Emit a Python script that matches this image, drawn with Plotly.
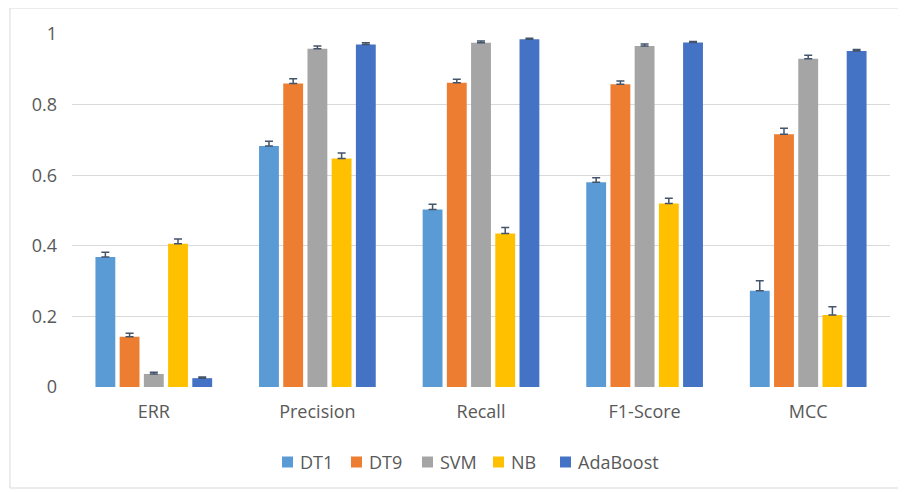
import plotly.graph_objects as go

categories = ["ERR", "Precision", "Recall", "F1-Score", "MCC"]
series_names = ["DT1", "DT9", "SVM", "NB", "AdaBoost"]
dt1 = [0.368, 0.683, 0.503, 0.580, 0.273]
dt9 = [0.142, 0.860, 0.862, 0.858, 0.716]
svm = [0.037, 0.958, 0.975, 0.966, 0.930]
nb = [0.406, 0.647, 0.435, 0.520, 0.204]
ada = [0.025, 0.970, 0.985, 0.976, 0.952]
dt1_err = [0.014, 0.013, 0.015, 0.013, 0.028]
dt9_err = [0.010, 0.013, 0.010, 0.009, 0.017]
svm_err = [0.005, 0.008, 0.005, 0.006, 0.010]
nb_err = [0.013, 0.016, 0.017, 0.015, 0.023]
ada_err = [0.003, 0.005, 0.003, 0.003, 0.004]
y_tickvals = [0, 0.2, 0.4, 0.6, 0.8, 1]
y_ticktext = ["0", "0.2", "0.4", "0.6", "0.8", "1"]

values = [dt1, dt9, svm, nb, ada]
errors = [dt1_err, dt9_err, svm_err, nb_err, ada_err]
colors = ["#5B9BD5", "#ED7D31", "#A5A5A5", "#FFC000", "#4472C4"]

# page has an 8px body margin; work in page pixel coordinates
OFF = 8
W, H = 906 - OFF, 492 - OFF
P_LEFT, P_RIGHT, P_TOP, P_BOTTOM = 72, 890, 34, 387
ml = P_LEFT - OFF
mt = P_TOP - OFF
mr = W - (P_RIGHT - OFF)
mb = H - (P_BOTTOM - OFF)
pw, ph = P_RIGHT - P_LEFT, P_BOTTOM - P_TOP

def px_x(p):
    return (p - P_LEFT) / pw

def px_y(p):
    return (P_BOTTOM - p) / ph

TEXT_COLOR = "#595959"
font = "'Open Sans', sans-serif"

fig = go.Figure()
for name, v, e, c in zip(series_names, values, errors, colors):
    fig.add_trace(go.Bar(
        name=name, x=categories, y=v, marker_color=c, marker_line_width=0,
        showlegend=False,
        error_y=dict(type="data", symmetric=False, array=e, arrayminus=[0]*len(e),
                     color="#44546A", thickness=1.5, width=4),
    ))

# outer chart border
fig.add_shape(type="rect", xref="paper", yref="paper",
              x0=px_x(10), x1=px_x(903), y0=px_y(488), y1=px_y(8),
              line=dict(color="#D9D9D9", width=1), fillcolor="rgba(0,0,0,0)", layer="below")

# legend (Excel style: small square + label)
legend_square_left = [282, 351, 422, 493, 560]
LEG_Y, SQ = 462, 11
for name, c, sx in zip(series_names, colors, legend_square_left):
    fig.add_shape(type="rect", xref="paper", yref="paper",
                  x0=px_x(sx), x1=px_x(sx + SQ), y0=px_y(LEG_Y + SQ / 2), y1=px_y(LEG_Y - SQ / 2),
                  line=dict(width=0), fillcolor=c)
    fig.add_annotation(xref="paper", yref="paper", x=px_x(sx + SQ + 5), y=px_y(LEG_Y),
                       text=name, showarrow=False, xanchor="left", yanchor="middle",
                       font=dict(family=font, size=18, color=TEXT_COLOR))

fig.update_layout(
    width=W, height=H,
    margin=dict(l=ml, r=mr, t=mt, b=mb),
    paper_bgcolor="white", plot_bgcolor="white",
    barmode="group", bargap=0.26, bargroupgap=0.18,
    font=dict(family=font, size=18, color=TEXT_COLOR),
    showlegend=False,
    xaxis=dict(showgrid=False, showline=False, ticks="", ticklabelstandoff=12,
               tickfont=dict(size=18, color=TEXT_COLOR)),
    yaxis=dict(range=[0, 1], tickvals=y_tickvals, ticktext=y_ticktext,
               showgrid=True, gridcolor="#D9D9D9", gridwidth=1, zeroline=False,
               showline=False, ticks="", ticklabelstandoff=14,
               tickfont=dict(size=18, color=TEXT_COLOR)),
)

fig.write_html("out.html")
